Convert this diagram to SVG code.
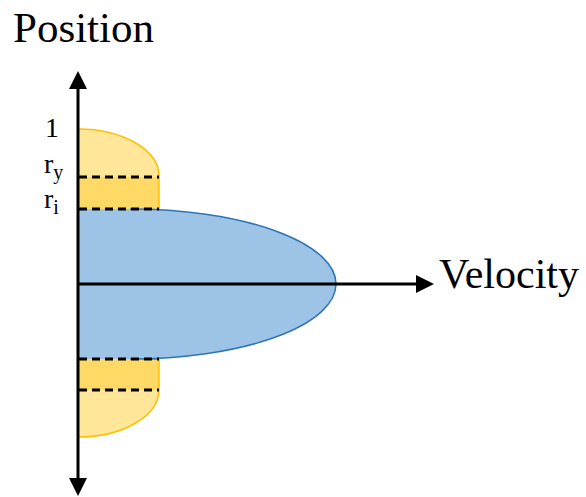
<svg xmlns="http://www.w3.org/2000/svg" width="586" height="497" viewBox="0 0 586 497">
<defs>
<style>
.ylight{fill:#FFE699;stroke:none}
.ydark{fill:#FFD966;stroke:none}
.yedge{fill:none;stroke:#FFC000;stroke-width:1.5}
.dash{stroke:#000;stroke-width:3;stroke-dasharray:8 5;fill:none}
.axis{stroke:#000;stroke-width:3;fill:none}
</style>
</defs>
<rect width="586" height="497" fill="#fff"/>
<g id="top-yellow">
<path class="ylight" d="M78,129 A81,47 0 0 1 159,176 L159,177 L78,177 Z"/>
<rect class="ydark" x="78" y="177" width="81" height="32"/>
<path class="yedge" d="M78,129 A81,47 0 0 1 159,176 L159,209"/>
</g>
<g id="bottom-yellow">
<rect class="ydark" x="78" y="359" width="81" height="31"/>
<path class="ylight" d="M78,390 L159,390 A81,47 0 0 1 78,437 Z"/>
<path class="yedge" d="M159,359 L159,390 A81,47 0 0 1 78,437"/>
</g>
<g id="blue-profile">
<path d="M78,209 L130,209 A206,75 0 0 1 130,359 L78,359 Z" fill="#9DC3E6" stroke="none"/>
<path d="M130,209 A206,75 0 0 1 130,359 L159,359" fill="none" stroke="#2E75B6" stroke-width="1.5"/>
</g>
<g id="dashes">
<line class="dash" x1="79" y1="177" x2="159" y2="177"/>
<line class="dash" x1="79" y1="209" x2="159" y2="209"/>
<line class="dash" x1="79" y1="359" x2="159" y2="359"/>
<line class="dash" x1="79" y1="390" x2="159" y2="390"/>
</g>
<g id="connectors">
<line class="axis" x1="78" y1="86" x2="78" y2="480"/>
<polygon points="78,71 69,89 87,89" fill="#000"/>
<polygon points="78,496 69,478 87,478" fill="#000"/>
<line class="axis" x1="78" y1="284" x2="420" y2="284"/>
<polygon points="434,284 416,275 416,293" fill="#000"/>
</g>
<g id="labels" font-family="'Liberation Serif', 'DejaVu Serif', serif" fill="#000">
<text x="13" y="42" font-size="43">Position</text>
<text x="439" y="288" font-size="42">Velocity</text>
<text x="45" y="137" font-size="28">1</text>
<text x="44" y="173" font-size="28">r<tspan font-size="20" dy="6">y</tspan></text>
<text x="44" y="208" font-size="28">r<tspan font-size="20" dy="6">i</tspan></text>
</g>
</svg>
